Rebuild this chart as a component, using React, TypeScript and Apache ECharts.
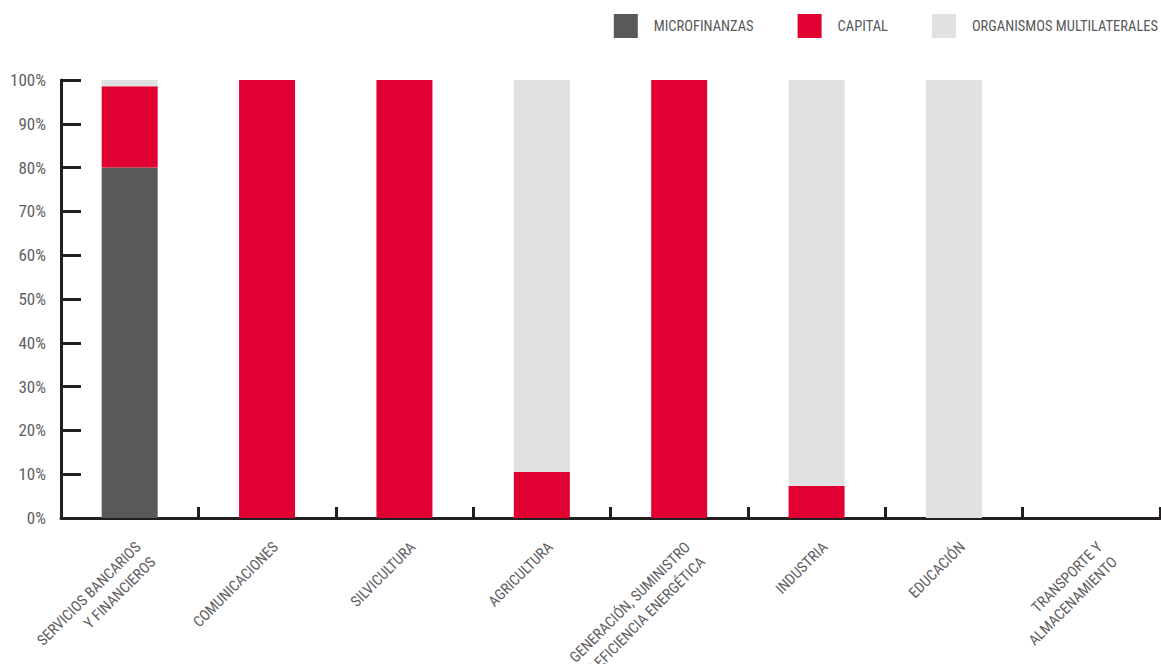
import React, { useEffect, useRef } from "react";
import * as echarts from "echarts";

const categories = [
  "SERVICIOS BANCARIOS\nY FINANCIEROS",
  "COMUNICACIONES",
  "SILVICULTURA",
  "AGRICULTURA",
  "GENERACIÓN, SUMINISTRO\nY EFICIENCIA ENERGÉTICA",
  "INDUSTRIA",
  "EDUCACIÓN",
  "TRANSPORTE Y\nALMACENAMIENTO",
];
const yTickLabels = ["0%", "10%", "20%", "30%", "40%", "50%", "60%", "70%", "80%", "90%", "100%"];
const microfinanzas = [80, 0, 0, 0, 0, 0, 0, 0];
const capital = [18.6, 100, 100, 10.5, 100, 7.3, 0, 0];
const organismos = [1.4, 0, 0, 89.5, 0, 92.7, 100, 0];
const seriesNames = ["MICROFINANZAS", "CAPITAL", "ORGANISMOS MULTILATERALES"];
const colors = ["#58595b", "#e10032", "#e0e1e3"];

const FONT = "'Roboto Condensed', 'DejaVu Sans Condensed', sans-serif";

export default function App() {
  const ref = useRef<HTMLDivElement>(null);
  useEffect(() => {
    if (!ref.current) return;
    const chart = echarts.init(ref.current, null, { renderer: "svg" });
    const data = [microfinanzas, capital, organismos];
    chart.setOption({
      animation: false,
      textStyle: { fontFamily: FONT },
      legend: {
        right: -2,
        top: 9,
        itemWidth: 24,
        itemHeight: 24,
        itemGap: 44,
        icon: "rect",
        textStyle: { fontSize: 14.5, color: "#58595b", fontFamily: FONT, padding: [0, 0, 0, 11] },
        data: seriesNames,
      },
      grid: { left: 61, right: 1, top: 80, bottom: 146, containLabel: false, outerBoundsMode: "none" },
      xAxis: {
        type: "category",
        data: categories,
        axisLine: { lineStyle: { color: "#231f20", width: 3 } },
        axisTick: { show: true, inside: true, length: 11, lineStyle: { color: "#231f20", width: 3 }, interval: 0 },
        axisLabel: {
          rotate: 45,
          interval: 0,
          fontSize: 15,
          lineHeight: 21,
          color: "#5f6062",
          fontFamily: FONT,
          margin: 35,
          verticalAlign: "top",
          padding: [-10.5, -12, 0, 0],
        },
      },
      yAxis: {
        type: "value",
        min: 0,
        max: 100,
        interval: 10,
        axisLine: { show: true, lineStyle: { color: "#231f20", width: 3 } },
        axisTick: { show: true, inside: true, length: 20, lineStyle: { color: "#231f20", width: 3 } },
        splitLine: { show: false },
        axisLabel: {
          formatter: (v: number) => yTickLabels[Math.round(v / 10)] ?? `${v}%`,
          fontSize: 17,
          color: "#5f6062",
          fontFamily: FONT,
          margin: 15,
        },
      },
      series: data.map((d, i) => ({
        name: seriesNames[i],
        type: "bar",
        stack: "total",
        barWidth: 56,
        itemStyle: { color: colors[i] },
        data: d,
      })),
    });
    return () => chart.dispose();
  }, []);
  return <div ref={ref} style={{ width: 1161, height: 664, position: "absolute", left: 0, top: 0 }} />;
}
